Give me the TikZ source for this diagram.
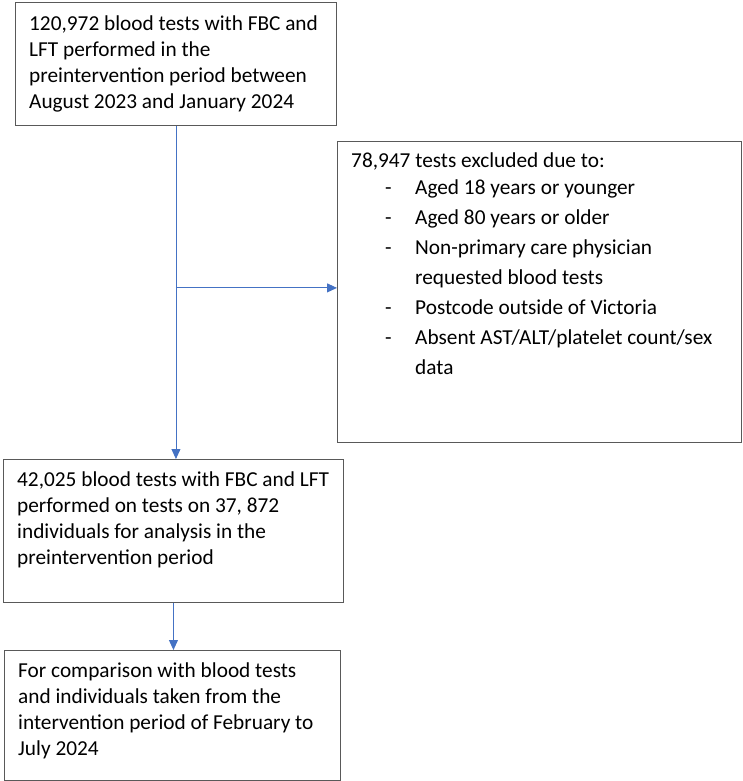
\documentclass[tikz,border=0pt]{standalone}
\usepackage{fontspec}
\setmainfont{Carlito}
\usepackage{tikz}
\usetikzlibrary{arrows.meta,positioning,calc}

\definecolor{flowblue}{HTML}{4472C4}
\newcommand{\exitem}[1]{\hspace*{34pt}\makebox[30pt][l]{-}#1}

\begin{document}
\begin{tikzpicture}[x=1pt,y=1pt,
    every node/.style={font=\fontsize{21.3}{26}\selectfont},
    box/.style={draw=black!65,line width=0.9pt,anchor=north west,inner sep=0pt},
    txt/.style={anchor=north west,align=left,inner sep=0pt},
    flow/.style={draw=flowblue,line width=0.9pt,-{Triangle[length=10pt,width=9pt]}}]
  \useasboundingbox (0,0) rectangle (743,-781);
  % boxes
  \node[box,minimum width=321,minimum height=123] (pre) at (15,-2) {};
  \node[box,minimum width=404,minimum height=301] (excl) at (337,-141) {};
  \node[box,minimum width=340,minimum height=143] (ana) at (3,-459) {};
  \node[box,minimum width=336,minimum height=130] (cmp) at (4,-650) {};
  % texts
  \node[txt] (pretxt) at ($(pre.north west)+(14,-14)$)
    {120,972 blood tests with FBC and\\LFT performed in the\\preintervention period between\\August 2023 and January 2024};
  \node[txt,font=\fontsize{21.3}{30}\selectfont] (excltxt) at ($(excl.north west)+(14,-12)$)
    {78,947 tests excluded due to:\\[-3pt]
     \exitem{Aged 18 years or younger}\\
     \exitem{Aged 80 years or older}\\
     \exitem{Non-primary care physician}\\
     \hspace*{64pt}requested blood tests\\
     \exitem{Postcode outside of Victoria}\\
     \exitem{Absent AST/ALT/platelet count/sex}\\
     \hspace*{64pt}data};
  \node[txt] (anatxt) at ($(ana.north west)+(14,-13)$)
    {42,025 blood tests with FBC and LFT\\performed on tests on 37, 872\\individuals for analysis in the\\preintervention period};
  \node[txt] (cmptxt) at ($(cmp.north west)+(14,-13)$)
    {For comparison with blood tests\\and individuals taken from the\\intervention period of February to\\July 2024};
  % connectors
  \coordinate (split) at ($(pre.south)+(0,-162)$);
  \draw[flow] (pre.south) -- (pre.south |- ana.north);
  \draw[flow] (split) -- (split -| excl.west);
  \draw[flow] (ana.south) -- (ana.south |- cmp.north);
\end{tikzpicture}
\end{document}
